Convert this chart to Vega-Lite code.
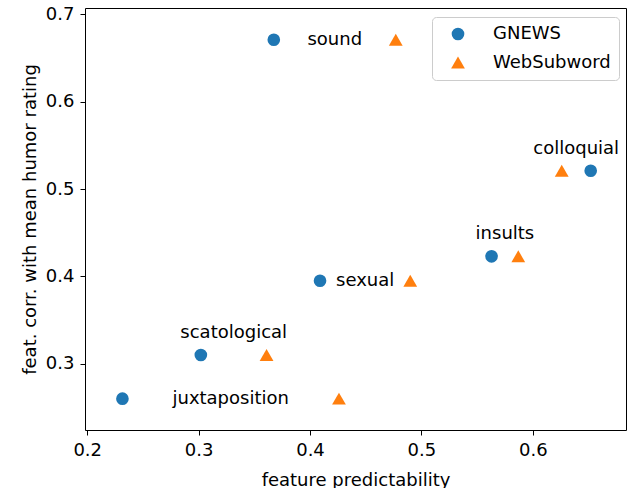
{
  "$schema": "https://vega.github.io/schema/vega-lite/v6.json",
  "width": 541,
  "height": 422,
  "autosize": {"type": "none"},
  "padding": {"left": 85, "top": 8, "right": 1, "bottom": 58},
  "config": {
    "font": "DejaVu Sans",
    "view": {"stroke": "black", "strokeWidth": 1},
    "axis": {
      "domain": false,
      "grid": false,
      "tickColor": "black",
      "tickSize": 5,
      "tickWidth": 1,
      "labelFont": "DejaVu Sans",
      "labelFontSize": 18,
      "labelColor": "black",
      "titleFont": "DejaVu Sans",
      "titleFontSize": 18,
      "titleFontWeight": "normal",
      "titleColor": "black"
    }
  },
  "data": {
    "values": [
      {"feature": "sound", "model": "GNEWS", "predictability": 0.3675, "correlation": 0.671, "label_pos": "center"},
      {"feature": "sound", "model": "WebSubword", "predictability": 0.477, "correlation": 0.671, "label_pos": "center"},
      {"feature": "colloquial", "model": "GNEWS", "predictability": 0.652, "correlation": 0.521, "label_pos": "above"},
      {"feature": "colloquial", "model": "WebSubword", "predictability": 0.626, "correlation": 0.521, "label_pos": "above"},
      {"feature": "insults", "model": "GNEWS", "predictability": 0.563, "correlation": 0.423, "label_pos": "above"},
      {"feature": "insults", "model": "WebSubword", "predictability": 0.587, "correlation": 0.423, "label_pos": "above"},
      {"feature": "sexual", "model": "GNEWS", "predictability": 0.409, "correlation": 0.395, "label_pos": "center"},
      {"feature": "sexual", "model": "WebSubword", "predictability": 0.490, "correlation": 0.395, "label_pos": "center"},
      {"feature": "scatological", "model": "GNEWS", "predictability": 0.302, "correlation": 0.310, "label_pos": "above"},
      {"feature": "scatological", "model": "WebSubword", "predictability": 0.361, "correlation": 0.310, "label_pos": "above"},
      {"feature": "juxtaposition", "model": "GNEWS", "predictability": 0.2316, "correlation": 0.260, "label_pos": "center"},
      {"feature": "juxtaposition", "model": "WebSubword", "predictability": 0.426, "correlation": 0.260, "label_pos": "center"}
    ]
  },
  "encoding": {
    "x": {
      "field": "predictability",
      "type": "quantitative",
      "scale": {"domain": [0.198, 0.6837], "nice": false, "zero": false},
      "axis": {
        "title": "feature predictability",
        "values": [0.2, 0.3, 0.4, 0.5, 0.6],
        "format": ".1f",
        "labelPadding": 6,
        "titleBaseline": "alphabetic",
        "titleY": 55
      }
    },
    "y": {
      "field": "correlation",
      "type": "quantitative",
      "scale": {"domain": [0.2241, 0.7074], "nice": false, "zero": false},
      "axis": {
        "title": "feat. corr. with mean humor rating",
        "values": [0.3, 0.4, 0.5, 0.6, 0.7],
        "format": ".1f",
        "labelPadding": 6,
        "titleBaseline": "alphabetic",
        "titleX": -50
      }
    }
  },
  "layer": [
    {
      "mark": {"type": "point", "filled": true, "opacity": 1},
      "encoding": {
        "color": {
          "field": "model",
          "type": "nominal",
          "scale": {"domain": ["GNEWS", "WebSubword"], "range": ["#1f77b4", "#ff7f0e"]},
          "legend": {
            "title": null,
            "orient": "none",
            "legendX": 347,
            "legendY": 9,
            "fillColor": "white",
            "strokeColor": "#cccccc",
            "cornerRadius": 4,
            "padding": 8,
            "symbolOffset": 9,
            "labelOffset": 26,
            "rowPadding": 10.5,
            "labelFontSize": 18,
            "labelFont": "DejaVu Sans",
            "labelColor": "black",
            "symbolSize": 165
          }
        },
        "shape": {
          "field": "model",
          "type": "nominal",
          "scale": {"domain": ["GNEWS", "WebSubword"], "range": ["circle", "triangle-up"]}
        },
        "size": {
          "field": "model",
          "type": "nominal",
          "scale": {"domain": ["GNEWS", "WebSubword"], "range": [160, 190]},
          "legend": null
        }
      }
    },
    {
      "transform": [
        {"aggregate": [
          {"op": "mean", "field": "predictability", "as": "predictability"},
          {"op": "mean", "field": "correlation", "as": "correlation"}
        ], "groupby": ["feature", "label_pos"]},
        {"filter": "datum.label_pos === 'center'"}
      ],
      "mark": {"type": "text", "align": "center", "baseline": "alphabetic", "dy": 5, "fontSize": 18, "font": "DejaVu Sans", "color": "black"},
      "encoding": {"text": {"field": "feature"}}
    },
    {
      "transform": [
        {"aggregate": [
          {"op": "mean", "field": "predictability", "as": "predictability"},
          {"op": "mean", "field": "correlation", "as": "correlation"}
        ], "groupby": ["feature", "label_pos"]},
        {"filter": "datum.label_pos === 'above'"}
      ],
      "mark": {"type": "text", "align": "center", "baseline": "alphabetic", "dy": -17, "fontSize": 18, "font": "DejaVu Sans", "color": "black"},
      "encoding": {"text": {"field": "feature"}}
    }
  ]
}
